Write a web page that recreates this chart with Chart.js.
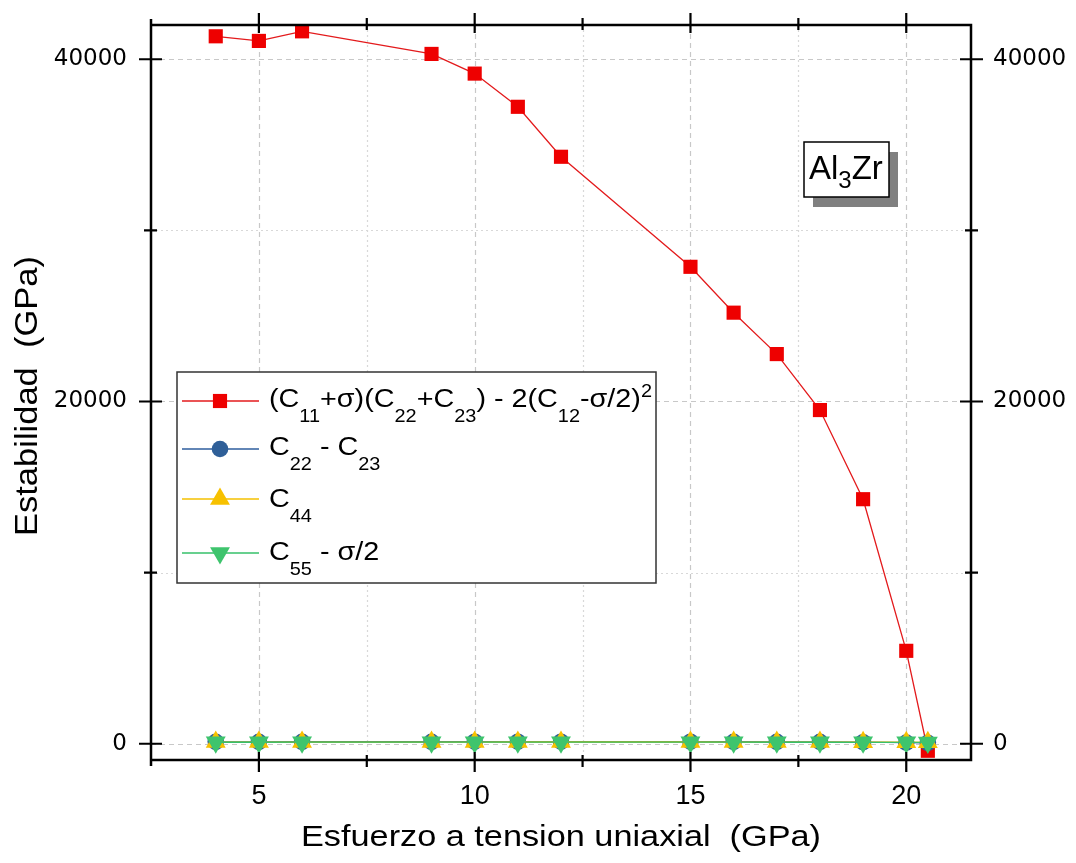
<!DOCTYPE html>
<html>
<head>
<meta charset="utf-8">
<script src="https://cdn.jsdelivr.net/npm/chart.js@4.4.0/dist/chart.umd.min.js"></script>
<style>
  html, body { margin: 0; padding: 0; background: #fff; }
</style>
</head>
<body>
<canvas id="chart" width="1076" height="863"></canvas>
<script>
// tension values (GPa)
const stress = [4, 5, 6, 9, 10, 11, 12, 15, 16, 17, 18, 19, 20, 20.5];
// (C11+s)(C22+C23) - 2(C12-s/2)^2
const stability = [41340, 41070, 41630, 40310, 39160, 37220, 34300, 27870, 25190, 22770, 19500, 14290, 5430, -410];
// the three small criteria sit on the zero line
const c22MinusC23 = [110, 112, 115, 116, 118, 119, 120, 118, 116, 113, 108, 90, 70, 55];
const c44 = [95, 96, 98, 99, 100, 101, 102, 101, 100, 98, 96, 92, 88, 85];
const c55MinusHalfSigma = [88, 88, 89, 90, 90, 91, 92, 90, 89, 88, 86, 84, 80, 78];

const xTicks = [5, 10, 15, 20];
const xMinorTicks = [7.5, 12.5, 17.5];
const yTicks = [0, 20000, 40000];
const yMinorTicks = [10000, 30000];

const FONT = '"Liberation Sans", Arial, sans-serif';

const series = [
    { data: stability, line: '#e31a1c', fill: '#ee0000', style: 'rect', radius: 10, rot: 0 },
    { data: c22MinusC23, line: '#2e5e9e', fill: '#2f5f98', style: 'circle', radius: 8.3, rot: 0 },
    { data: c44, line: '#f5c000', fill: '#f7c100', style: 'triangle', radius: 11.5, rot: 0 },
    { data: c55MinusHalfSigma, line: '#36c06a', fill: '#3ec46d', style: 'triangle', radius: 11.5, rot: 180 }
];

const legendRows = [
    [['(C', 'n'], ['11', 'sub'], ['+\u03c3)(C', 'n'], ['22', 'sub'], ['+C', 'n'], ['23', 'sub'],
     [') - 2(C', 'n'], ['12', 'sub'], ['-\u03c3/2)', 'n'], ['2', 'sup']],
    [['C', 'n'], ['22', 'sub'], [' - C', 'n'], ['23', 'sub']],
    [['C', 'n'], ['44', 'sub']],
    [['C', 'n'], ['55', 'sub'], [' - \u03c3/2', 'n']]
];

function segFont(kind, base, small) {
    return (kind === 'n' ? base : small) + 'px ' + FONT;
}

function richWidth(ctx, segs, base, small) {
    let w = 0;
    segs.forEach(([t, k]) => {
        ctx.font = segFont(k, base, small);
        w += ctx.measureText(t).width;
    });
    return w;
}

function drawRich(ctx, segs, x, y, base, small, stretch, subDy, supDy) {
    ctx.save();
    ctx.translate(x, y);
    ctx.scale(stretch, 1);
    ctx.textBaseline = 'alphabetic';
    ctx.textAlign = 'left';
    ctx.fillStyle = '#000';
    let cx = 0;
    segs.forEach(([t, k]) => {
        ctx.font = segFont(k, base, small);
        const dy = k === 'sub' ? subDy : (k === 'sup' ? supDy : 0);
        ctx.fillText(t, cx, dy);
        cx += ctx.measureText(t).width;
    });
    ctx.restore();
}

function fitText(ctx, text, x, y, size, targetW, angle) {
    ctx.save();
    ctx.font = size + 'px ' + FONT;
    const w = ctx.measureText(text).width;
    ctx.translate(x, y);
    ctx.rotate(angle);
    ctx.scale(targetW / w, 1);
    ctx.textAlign = 'center';
    ctx.textBaseline = 'middle';
    ctx.fillStyle = '#000';
    ctx.fillText(text, 0, 0);
    ctx.restore();
}

const decor = {
    id: 'decor',
    beforeDatasetsDraw(chart) {
        const { ctx, chartArea: a, scales: { x, y } } = chart;
        ctx.save();
        ctx.lineWidth = 1.2;
        ctx.strokeStyle = '#c8c8c8';
        const vline = (v, dash) => {
            const px = Math.round(x.getPixelForValue(v)) + 0.5;
            ctx.setLineDash(dash);
            ctx.beginPath(); ctx.moveTo(px, a.top); ctx.lineTo(px, a.bottom); ctx.stroke();
        };
        const hline = (v, dash) => {
            const py = Math.round(y.getPixelForValue(v)) + 0.5;
            ctx.setLineDash(dash);
            ctx.beginPath(); ctx.moveTo(a.left, py); ctx.lineTo(a.right, py); ctx.stroke();
        };
        xTicks.forEach(v => vline(v, [5, 4]));
        yTicks.forEach(v => hline(v, [5, 4]));
        ctx.strokeStyle = '#d8d8d8';
        xMinorTicks.forEach(v => vline(v, [2, 3]));
        yMinorTicks.forEach(v => hline(v, [2, 3]));
        ctx.restore();
    },
    afterDatasetsDraw(chart) {
        const { ctx, chartArea: a, scales: { x, y } } = chart;
        ctx.save();
        // frame
        ctx.strokeStyle = '#000';
        ctx.lineWidth = 2.5;
        ctx.setLineDash([]);
        ctx.beginPath();
        ctx.moveTo(a.left, a.top - 6); ctx.lineTo(a.left, a.bottom + 6);
        ctx.moveTo(a.left, a.bottom); ctx.lineTo(a.right, a.bottom); ctx.lineTo(a.right, a.top); ctx.lineTo(a.left, a.top);
        ctx.stroke();

        // tick marks, crossing the axes
        ctx.lineWidth = 2.2;
        const xt = (v, inn, out) => {
            const px = x.getPixelForValue(v);
            ctx.beginPath();
            ctx.moveTo(px, a.bottom - inn); ctx.lineTo(px, a.bottom + out);
            ctx.moveTo(px, a.top + inn); ctx.lineTo(px, a.top - out);
            ctx.stroke();
        };
        const yt = (v, inn, out) => {
            const py = y.getPixelForValue(v);
            ctx.beginPath();
            ctx.moveTo(a.left - out, py); ctx.lineTo(a.left + inn, py);
            ctx.moveTo(a.right + out, py); ctx.lineTo(a.right - inn, py);
            ctx.stroke();
        };
        xTicks.forEach(v => xt(v, 8, 12));
        yTicks.forEach(v => yt(v, 11, 12));
        xMinorTicks.forEach(v => xt(v, 5, 7));
        yMinorTicks.forEach(v => yt(v, 6, 7));

        // legend box
        const lx = 177, ly = 372, lw = 479, lh = 211;
        ctx.fillStyle = '#fff';
        ctx.fillRect(lx, ly, lw, lh);
        ctx.strokeStyle = '#333';
        ctx.lineWidth = 1.5;
        ctx.strokeRect(lx, ly, lw, lh);

        const rowY = [401, 449, 499, 553];
        const baseY = [407, 455, 507, 560];
        const stretch = 383 / richWidth(ctx, legendRows[0], 26, 18);
        series.forEach((s, i) => {
            ctx.strokeStyle = s.line;
            ctx.lineWidth = 1.3;
            ctx.beginPath(); ctx.moveTo(182, rowY[i]); ctx.lineTo(259, rowY[i]); ctx.stroke();
            ctx.fillStyle = s.fill;
            ctx.strokeStyle = s.fill;
            Chart.helpers.drawPoint(ctx, { pointStyle: s.style, radius: s.radius, rotation: s.rot, borderWidth: 0 }, 220, rowY[i]);
            drawRich(ctx, legendRows[i], 269, baseY[i], 26, 18, stretch, 15, -10);
        });

        // material label with shadow
        ctx.fillStyle = '#808080';
        ctx.fillRect(813, 152, 85, 55);
        ctx.fillStyle = '#fff';
        ctx.fillRect(804, 142, 85, 55);
        ctx.strokeStyle = '#000';
        ctx.lineWidth = 1.5;
        ctx.strokeRect(804, 142, 85, 55);
        drawRich(ctx, [['Al', 'n'], ['3', 'sub'], ['Zr', 'n']], 809, 179, 33, 24, 1, 9, 0);

        // axis titles
        fitText(ctx, 'Esfuerzo a tension uniaxial  (GPa)', 561, 838, 30, 520, 0);
        fitText(ctx, 'Estabilidad  (GPa)', 28, 396, 31, 280, -Math.PI / 2);
        ctx.restore();
    }
};

const datasets = series.map((s, i) => ({
    data: stress.map((v, j) => ({ x: v, y: s.data[j] })),
    borderColor: s.line,
    backgroundColor: s.fill,
    borderWidth: 1.3,
    pointStyle: s.style,
    pointRadius: s.radius,
    pointRotation: s.rot,
    pointBackgroundColor: s.fill,
    pointBorderColor: s.fill,
    pointBorderWidth: 0,
    order: 4 - i,
    tension: 0
}));

const tickFontY = { family: '"DejaVu Sans", Verdana, sans-serif', size: 23 };
const plainLabel = v => String(v);

new Chart(document.getElementById('chart').getContext('2d'), {
    type: 'line',
    data: { datasets },
    plugins: [decor],
    options: {
        responsive: false,
        devicePixelRatio: 1,
        animation: false,
        layout: { padding: { top: 25, left: 0, right: 0, bottom: 0 } },
        plugins: { legend: { display: false }, tooltip: { enabled: false } },
        scales: {
            x: {
                type: 'linear',
                position: 'bottom',
                min: 2.5,
                max: 21.5,
                afterFit: s => { s.height = 103; s.paddingLeft = 0; s.paddingRight = 0; },
                afterBuildTicks: s => { s.ticks = xTicks.map(v => ({ value: v })); },
                grid: { display: false, drawTicks: false },
                border: { display: false },
                ticks: { color: '#000', padding: 20, font: { family: FONT, size: 27 }, callback: plainLabel }
            },
            y: {
                type: 'linear',
                position: 'left',
                min: -950,
                max: 42000,
                afterFit: s => { s.width = 151; s.paddingTop = 0; s.paddingBottom = 0; },
                afterBuildTicks: s => { s.ticks = yTicks.map(v => ({ value: v })); },
                grid: { display: false, drawTicks: false },
                border: { display: false },
                ticks: { color: '#000', padding: 24, font: tickFontY, callback: plainLabel }
            },
            y2: {
                type: 'linear',
                position: 'right',
                min: -950,
                max: 42000,
                afterFit: s => { s.width = 105; s.paddingTop = 0; s.paddingBottom = 0; },
                afterBuildTicks: s => { s.ticks = yTicks.map(v => ({ value: v })); },
                grid: { display: false, drawTicks: false },
                border: { display: false },
                ticks: { color: '#000', padding: 22, font: tickFontY, callback: plainLabel }
            }
        }
    }
});
</script>
</body>
</html>
